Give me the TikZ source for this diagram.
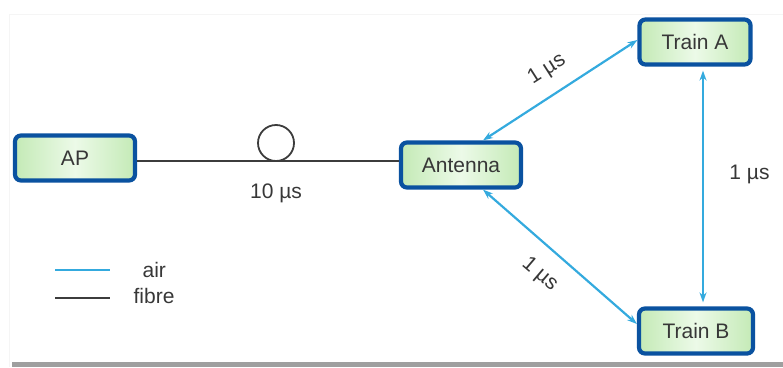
\documentclass[tikz,border=0pt]{standalone}
\usepackage{fontspec}
\setmainfont{Liberation Sans}
\usetikzlibrary{arrows.meta}
\usetikzlibrary{positioning}
\definecolor{boxblue}{RGB}{10,82,160}
\definecolor{boxgreen}{RGB}{196,234,182}
\definecolor{boxlight}{RGB}{236,250,232}
\definecolor{airblue}{RGB}{52,170,222}
\definecolor{fibregray}{RGB}{60,60,60}
\definecolor{txtgray}{RGB}{55,55,55}
\tikzset{unit/.style = {draw=boxblue, line width=4.2, rounded corners=6,
                        left color=boxgreen, right color=boxgreen, middle color=boxlight,
                        minimum width=120, minimum height=45, text=txtgray,
                        font=\fontsize{21}{25}\selectfont}}
\tikzset{air/.style = {draw=airblue, line width=2.2,
                       {Stealth[length=10,width=7]}-{Stealth[length=10,width=7]}}}
\tikzset{fibre/.style = {draw=fibregray, line width=2}}
\tikzset{lbl/.style = {text=txtgray, font=\fontsize{21}{25}\selectfont}}

\begin{document}
\begin{tikzpicture}[x=1pt, y=-1pt]
      \useasboundingbox (0, 0) rectangle (783, 367);
      \draw [gray!8, line width=1] (9, 367) -- (9, 14) -- (783, 14);
      \fill [gray!75] (12, 362) rectangle (783, 367);

      \node [unit] (ap) at (75, 158) {AP};
      \node [unit] (antenna) at (461, 165) {Antenna};
      \node [unit, minimum width=111] (traina) at (695, 42) {Train A};
      \node [unit, minimum width=114] (trainb) at (696, 331) {Train B};

      % fibre with its delay loop
      \coordinate (fibin) at (antenna.west |- 0, 161);
      \draw [fibre] (ap.east |- fibin) -- (fibin);
      \draw [fibre, line width=1.8] (276, 143) circle (18);
      \node [lbl] (fibdelay) at (276, 193) {10 µs};

      % radio links
      \draw [air] ([xshift=22]antenna.north) -- ([yshift=2]traina.west)
        node [lbl, pos=0.5, rotate=32.6, anchor=south, inner sep=14] {1 µs};
      \draw [air] ([xshift=22]antenna.south) -- ([yshift=7]trainb.west)
        node [lbl, pos=0.48, rotate=-40.4, anchor=north, inner sep=16] {1 µs};
      \draw [air, shorten <=4, shorten >=4] ([xshift=8]traina.south) -- ([xshift=8]traina.south |- trainb.north)
        node [lbl, pos=0.45, right=22] {1 µs};

      % legend
      \coordinate (airl) at (55, 270);
      \coordinate (fibl) at (55, 298);
      \draw [draw=airblue, line width=2.6] (airl) -- ++(55, 0) node [lbl, right=28] (airtxt) {air};
      \draw [fibre, line width=2.6] (fibl) -- ++(55, 0) node [lbl, right=19, yshift=2] (fibtxt) {fibre};
\end{tikzpicture}
\end{document}
